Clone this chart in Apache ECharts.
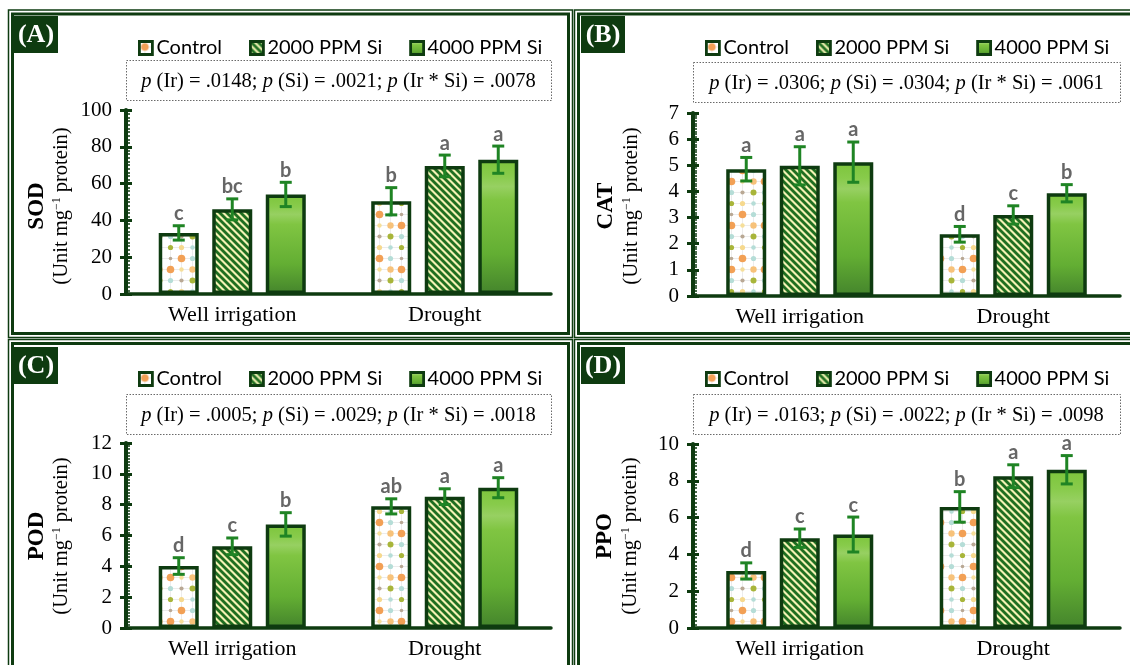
<!DOCTYPE html>
<html><head><meta charset="utf-8">
<script src="https://cdn.jsdelivr.net/npm/echarts@6/dist/echarts.min.js"></script>
<style>html,body{margin:0;padding:0;background:#fff}#chart{width:1130px;height:665px}</style>
</head><body><div id="chart"></div>
<script>
// ---------------- DATA ----------------
const categories = ['Well irrigation', 'Drought'];
const seriesNames = ['Control', '2000 PPM Si', '4000 PPM Si'];
const panelLabels = ['(A)', '(B)', '(C)', '(D)'];
const enzymeNames = ['SOD', 'CAT', 'POD', 'PPO'];
const pIr = ['.0148', '.0306', '.0005', '.0163'];
const pSi = ['.0021', '.0304', '.0029', '.0022'];
const pIrSi = ['.0078', '.0061', '.0018', '.0098'];
const yMax = [100, 7, 12, 10];
const yStep = [20, 1, 2, 2];

// rows: Control, 2000 PPM Si, 4000 PPM Si ; columns: Well irrigation, Drought
const sodMean = [[33.2, 50.4], [46.0, 69.6], [54.1, 73.0]];
const sodErr = [[3.9, 7.4], [5.7, 5.9], [6.6, 7.4]];
const sodLetters = [['c', 'b'], ['bc', 'a'], ['b', 'a']];

const catMean = [[4.85, 2.36], [4.98, 3.10], [5.12, 3.93]];
const catErr = [[0.45, 0.30], [0.73, 0.35], [0.77, 0.33]];
const catLetters = [['a', 'd'], ['a', 'c'], ['a', 'b']];

const podMean = [[4.02, 7.89], [5.30, 8.52], [6.72, 9.10]];
const podErr = [[0.54, 0.49], [0.54, 0.51], [0.76, 0.65]];
const podLetters = [['d', 'ab'], ['c', 'a'], ['b', 'a']];

const ppoMean = [[3.10, 6.58], [4.88, 8.25], [5.08, 8.60]];
const ppoErr = [[0.44, 0.83], [0.50, 0.62], [0.95, 0.77]];
const ppoLetters = [['d', 'b'], ['c', 'a'], ['c', 'a']];

const allMeans = [sodMean, catMean, podMean, ppoMean];
const allErrs = [sodErr, catErr, podErr, ppoErr];
const allLetters = [sodLetters, catLetters, podLetters, ppoLetters];

// ---------------- STYLE / LAYOUT ----------------
const DG = '#0e3b10';
const ERR = '#1f8424';
const SERIF = 'Liberation Serif';
const SANS = 'Lato';
const layout = [
  {grid:{left:126,top:110,width:425,height:184}, frame:[8.5,10,564,327.5], label:[14,16,44,37], legend:[133,33], pbox:[126,60,425,40], nameX:[37,62], nameY:206},
  {grid:{left:693,top:113,width:427,height:183}, frame:[574.5,10,600,327.5], label:[581,16,44,37], legend:[700,33], pbox:[693,62,427,40], nameX:[606,632], nameY:206},
  {grid:{left:126,top:443,width:425,height:185}, frame:[8.5,339.5,564,400], label:[14,347,44,37], legend:[133,364], pbox:[126,394,425,40], nameX:[37,62], nameY:536},
  {grid:{left:693,top:444,width:427,height:184}, frame:[574.5,339.5,600,400], label:[581,347,44,37], legend:[700,364], pbox:[693,394,427,40], nameX:[605,631], nameY:536}
];
const BAR_W = 40, PITCH = 53.5;

// pattern fills
function dotsPattern() {
  const c = document.createElement('canvas'); c.width = 33; c.height = 44;
  const g = c.getContext('2d');
  g.fillStyle = '#ffffff'; g.fillRect(0, 0, 33, 44);
  g.strokeStyle = '#ececec'; g.lineWidth = 1;
  for (let i = 0; i < 3; i++) { g.beginPath(); g.moveTo(5.5 + i * 11, 0); g.lineTo(5.5 + i * 11, 44); g.stroke(); }
  for (let j = 0; j < 4; j++) { g.beginPath(); g.moveTo(0, 5.5 + j * 11); g.lineTo(33, 5.5 + j * 11); g.stroke(); }
  const dots = [
    [5.5,5.5,3.8,'#f2a055'],[16.5,5.5,2.2,'#f6df9a'],[27.5,5.5,3.2,'#f7c27a'],
    [5.5,16.5,2.6,'#b5ddd7'],[16.5,16.5,2.1,'#b9a894'],[27.5,16.5,3,'#a8b53a'],
    [5.5,27.5,2.6,'#a8b53a'],[16.5,27.5,2.6,'#f6d98e'],[27.5,27.5,2.3,'#b5ddd7'],
    [5.5,38.5,1.8,'#b9a894'],[16.5,38.5,3.8,'#f2a055'],[27.5,38.5,2.6,'#b5ddd7']
  ];
  dots.forEach(d => { g.fillStyle = d[3]; g.beginPath(); g.arc(d[0], d[1], d[2], 0, Math.PI * 2); g.fill(); });
  return c;
}
function stripePattern() {
  const s = 7;
  const c = document.createElement('canvas'); c.width = s; c.height = s;
  const g = c.getContext('2d');
  g.fillStyle = '#f4f2b4'; g.fillRect(0, 0, s, s);
  g.strokeStyle = '#1f6e20'; g.lineWidth = 2.8;
  for (const k of [-s, 0, s]) { g.beginPath(); g.moveTo(k - 1, -1); g.lineTo(k + s + 1, s + 1); g.stroke(); }
  return c;
}
const fills = [
  {image: dotsPattern(), repeat: 'repeat'},
  {image: stripePattern(), repeat: 'repeat'},
  {type:'linear', x:0, y:0, x2:0, y2:1, colorStops:[
    {offset:0, color:'#7cc53b'}, {offset:0.12, color:'#88cb4b'}, {offset:0.2, color:'#97d062'},
    {offset:0.3, color:'#80c542'}, {offset:0.7, color:'#63ae33'}, {offset:1, color:'#44842c'}]}
];

// ---------------- BUILD ----------------
const grids = [], xAxes = [], yAxes = [], series = [], legends = [], graphics = [];
layout.forEach((L, p) => {
  grids.push(Object.assign({containLabel:false}, L.grid));
  xAxes.push({type:'category', gridIndex:p, data:categories,
    axisLine:{lineStyle:{color:DG, width:3.5}}, axisTick:{show:false},
    axisLabel:{fontFamily:SERIF, fontSize:22, color:'#000', margin:10}});
  yAxes.push({type:'value', gridIndex:p, position:'left', min:0, max:yMax[p], interval:yStep[p],
    axisLine:{show:true, lineStyle:{color:DG, width:4}},
    axisTick:{show:true, inside:true, length:6, lineStyle:{color:DG, width:3}},
    minorTick:{show:true, splitNumber:10, length:4, lineStyle:{color:DG, width:1.5}},
    splitLine:{show:false},
    axisLabel:{fontFamily:SERIF, fontSize:21, color:'#000', margin:14}});
  yAxes.push({type:'value', gridIndex:p, position:'left', min:0, max:yMax[p], interval:yStep[p],
    axisLine:{show:false}, axisTick:{show:true, inside:false, length:6, lineStyle:{color:DG, width:3}},
    axisLabel:{show:false}, splitLine:{show:false}});
  const means = allMeans[p], errs = allErrs[p], letters = allLetters[p];
  seriesNames.forEach((nm, k) => {
    series.push({type:'bar', name:nm, xAxisIndex:p, yAxisIndex:2 * p, data:means[k],
      barWidth:BAR_W, barGap:((PITCH - BAR_W) / BAR_W * 100).toFixed(1) + '%',
      itemStyle:{color:fills[k], borderColor:DG, borderWidth:3.5},
      emphasis:{disabled:true}, silent:true});
  });
  const errData = [];
  seriesNames.forEach((nm, k) => categories.forEach((c, i) => errData.push([i, means[k][i], errs[k][i], k])));
  series.push({type:'custom', xAxisIndex:p, yAxisIndex:2 * p, z:10, silent:true, data:errData,
    renderItem: function (params, api) {
      const ci = api.value(0), m = api.value(1), e = api.value(2), k = api.value(3);
      const off = (k - 1) * PITCH;
      const top = api.coord([ci, m + e]), bot = api.coord([ci, m - e]);
      const x = top[0] + off, cap = 6;
      const ls = {stroke:ERR, lineWidth:3};
      return {type:'group', children:[
        {type:'line', shape:{x1:x, y1:top[1], x2:x, y2:bot[1]}, style:ls},
        {type:'line', shape:{x1:x - cap, y1:top[1], x2:x + cap, y2:top[1]}, style:ls},
        {type:'line', shape:{x1:x - cap, y1:bot[1], x2:x + cap, y2:bot[1]}, style:ls},
        {type:'text', x:x, y:top[1] - 2, style:{text:letters[k][ci], fontFamily:SANS, fontWeight:'bold',
          fontSize:20, fill:'#666666', align:'center', verticalAlign:'bottom'}}
      ]};
    }});
  legends.push({left:L.legend[0], top:L.legend[1], icon:'rect', itemWidth:13, itemHeight:13, itemGap:27,
    selectedMode:false, data:seriesNames,
    itemStyle:{borderColor:DG, borderWidth:2.8},
    textStyle:{fontFamily:SANS, fontSize:20, color:'#000', padding:[0,0,0,-1]}});
  const f = L.frame;
  graphics.push({type:'rect', shape:{x:f[0], y:f[1], width:f[2], height:f[3]}, style:{fill:null, stroke:DG, lineWidth:1.5}, silent:true});
  graphics.push({type:'rect', shape:{x:f[0] + 4, y:f[1] + 4, width:f[2] - 8, height:f[3] - 8}, style:{fill:null, stroke:DG, lineWidth:3}, silent:true});
  const lb = L.label;
  graphics.push({type:'rect', shape:{x:lb[0], y:lb[1], width:lb[2], height:lb[3]}, style:{fill:DG}, silent:true});
  graphics.push({type:'text', x:lb[0] + lb[2] / 2, y:lb[1] + lb[3] / 2 + 1, silent:true,
    style:{text:panelLabels[p], fontFamily:SERIF, fontWeight:'bold', fontSize:26, fill:'#fff', align:'center', verticalAlign:'middle'}});
  const pb = L.pbox;
  graphics.push({type:'rect', shape:{x:pb[0] + 0.5, y:pb[1] + 0.5, width:pb[2], height:pb[3]},
    style:{fill:'#fff', stroke:'#6a6a6a', lineWidth:1, lineDash:[1.5, 1.5]}, silent:true});
  graphics.push({type:'text', x:pb[0] + pb[2] / 2, y:pb[1] + pb[3] / 2 + 2, silent:true,
    style:{text:'{i|p} (Ir) = ' + pIr[p] + '; {i|p} (Si) = ' + pSi[p] + '; {i|p} (Ir * Si) = ' + pIrSi[p],
      rich:{i:{fontStyle:'italic', fontFamily:SERIF, fontSize:20.5, fill:'#000'}},
      fontFamily:SERIF, fontSize:20.5, fill:'#000', align:'center', verticalAlign:'middle'}});
  graphics.push({type:'text', x:L.nameX[0], y:L.nameY, rotation:Math.PI / 2, silent:true,
    style:{text:enzymeNames[p], fontFamily:SERIF, fontWeight:'bold', fontSize:23, fill:'#000', align:'center', verticalAlign:'middle'}});
  graphics.push({type:'text', x:L.nameX[1], y:L.nameY, rotation:Math.PI / 2, silent:true,
    style:{text:'{n|(Unit mg}{s|−1}{n| protein)}',
      rich:{n:{fontFamily:SERIF, fontSize:20.5, fill:'#000', lineHeight:22},
            s:{fontFamily:SERIF, fontSize:12, fill:'#000', lineHeight:13, verticalAlign:'top'}},
      align:'center', verticalAlign:'middle'}});
});

const chart = echarts.init(document.getElementById('chart'), null, {renderer:'canvas'});
chart.setOption({
  backgroundColor:'#fff', animation:false,
  grid:grids, xAxis:xAxes, yAxis:yAxes, series:series, legend:legends, graphic:graphics
});
</script></body></html>
